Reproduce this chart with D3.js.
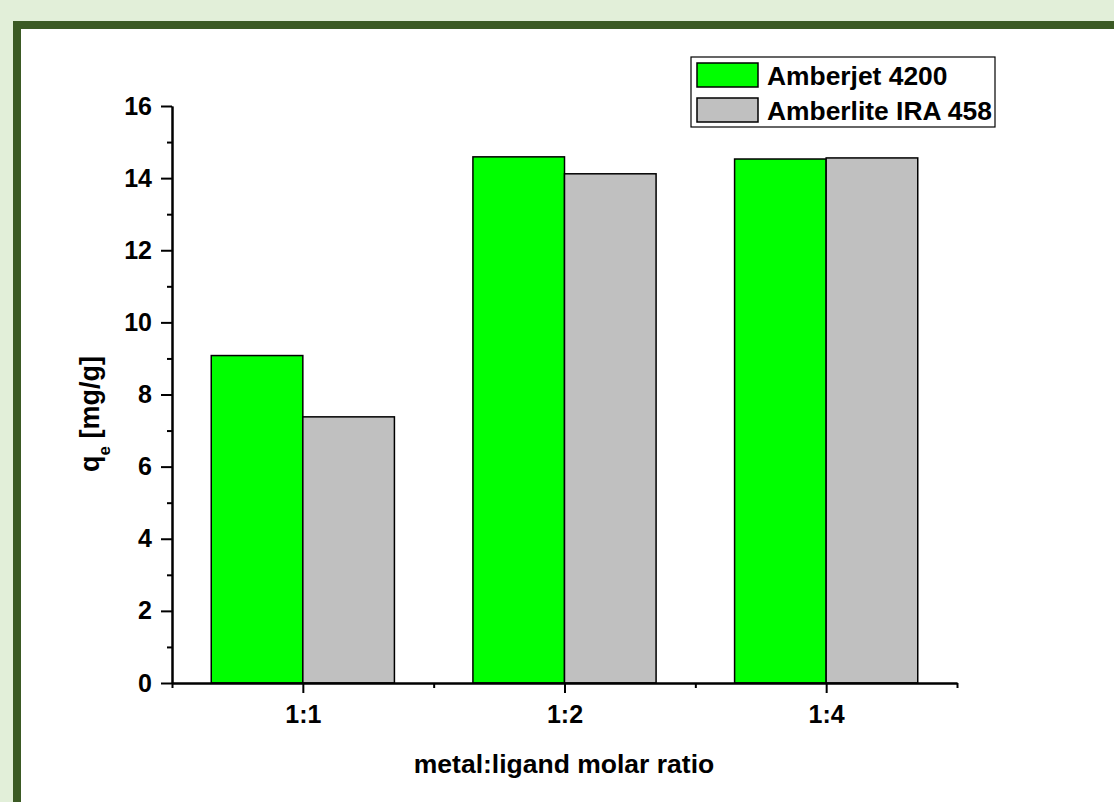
<!DOCTYPE html>
<html>
<head>
<meta charset="utf-8">
<script src="https://cdn.jsdelivr.net/npm/d3@7"></script>
<style>
  body { margin: 0; background: #e2efd9; overflow: hidden; }
  text { font-family: Arial, "Liberation Sans", sans-serif; font-weight: bold; }
</style>
</head>
<body>
<div id="chart"></div>
<script>
const categories = ['1:1', '1:2', '1:4']
const seriesNames = ['Amberjet 4200', 'Amberlite IRA 458']
const amberjet = [9.08, 14.59, 14.53]
const amberlite = [7.38, 14.12, 14.56]
const colors = ['#00ff00', '#c0c0c0']
const yTicks = [0, 2, 4, 6, 8, 10, 12, 14, 16]

const W = 1114
const H = 802

const svg = d3
  .select('#chart')
  .append('svg')
  .attr('width', W)
  .attr('height', H)

// frame around the plot
svg
  .append('rect')
  .attr('x', 17)
  .attr('y', 25)
  .attr('width', W)
  .attr('height', H)
  .attr('fill', '#fff')
  .attr('stroke', '#3b5a24')
  .attr('stroke-width', 8)

const x = d3.scaleLinear().domain([0.5, 3.5]).range([172, 957])
const y = d3.scaleLinear().domain([0, 16]).range([683, 106])
const barW = 0.35

const series = [amberjet, amberlite]

// bars
series.forEach((vals, s) => {
  svg
    .append('g')
    .selectAll('rect')
    .data(vals)
    .enter()
    .append('rect')
    .attr('x', (d, i) => x(i + 1 - barW + s * barW))
    .attr('y', d => y(d))
    .attr('width', x(barW) - x(0))
    .attr('height', d => y(0) - y(d))
    .attr('fill', colors[s])
    .attr('stroke', '#000')
    .attr('stroke-width', 1.5)
})

// y axis
svg
  .append('g')
  .attr('transform', 'translate(172,0)')
  .call(d3.axisLeft(y).tickValues(yTicks).tickSize(11).tickSizeOuter(0).tickPadding(9))
svg
  .append('g')
  .attr('transform', 'translate(172,0)')
  .call(d3.axisLeft(y).tickValues(d3.range(1, 16, 2)).tickSize(5).tickSizeOuter(0).tickFormat(''))

// x axis
svg
  .append('g')
  .attr('transform', 'translate(0,683)')
  .call(d3.axisBottom(x).tickValues([1, 2, 3]).tickFormat((d, i) => categories[i]).tickSize(10).tickSizeOuter(0).tickPadding(12))
svg
  .append('g')
  .attr('transform', 'translate(0,683)')
  .call(d3.axisBottom(x).tickValues([0.5, 1.5, 2.5, 3.5]).tickSize(5).tickSizeOuter(0).tickFormat(''))

svg.selectAll('.domain, .tick line').attr('stroke', '#000').attr('stroke-width', 2)
svg.selectAll('.tick text').attr('fill', '#000').style('font-size', '25px').style('font-weight', 'bold')

// axis titles
svg
  .append('text')
  .attr('x', 564)
  .attr('y', 773)
  .attr('text-anchor', 'middle')
  .style('font-size', '26.5px')
  .text('metal:ligand molar ratio')

const yTitle = svg
  .append('text')
  .attr('transform', 'translate(99,414) rotate(-90)')
  .attr('text-anchor', 'middle')
  .style('font-size', '27px')
yTitle.append('tspan').text('q')
yTitle.append('tspan').attr('dy', 11).style('font-size', '17px').text('e')
yTitle.append('tspan').attr('dy', -11).text(' [mg/g]')

// legend
const legend = svg.append('g').attr('transform', 'translate(691,57)')
legend
  .append('rect')
  .attr('width', 304)
  .attr('height', 70)
  .attr('fill', '#fff')
  .attr('stroke', '#000')
  .attr('stroke-width', 1.2)
seriesNames.forEach((name, i) => {
  legend
    .append('rect')
    .attr('x', 6)
    .attr('y', 6 + i * 35)
    .attr('width', 61)
    .attr('height', 24)
    .attr('fill', colors[i])
    .attr('stroke', '#000')
    .attr('stroke-width', 1.5)
  legend
    .append('text')
    .attr('x', 76)
    .attr('y', 28 + i * 35)
    .style('font-size', '26.4px')
    .text(name)
})
</script>
</body>
</html>
